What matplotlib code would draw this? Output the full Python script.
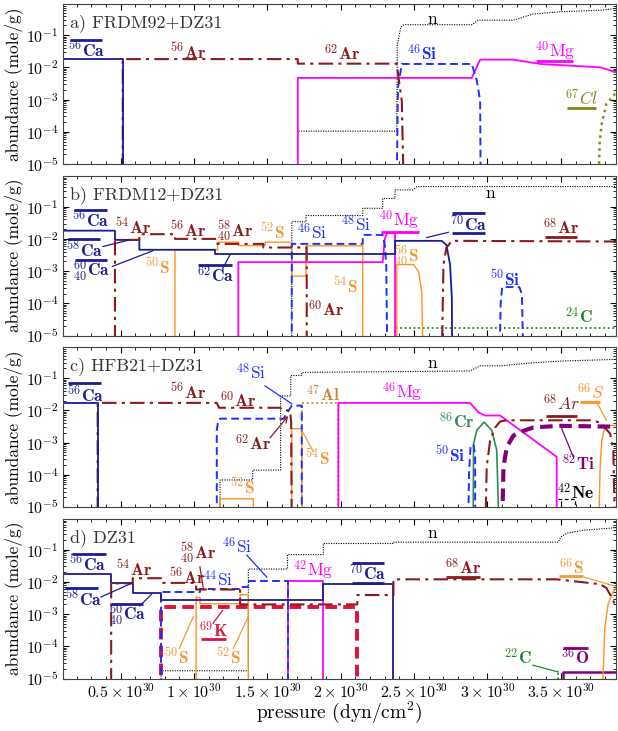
import numpy as np
import matplotlib
matplotlib.use('Agg')
import matplotlib.pyplot as plt
from matplotlib.ticker import MultipleLocator, LogLocator, NullFormatter, FuncFormatter
from matplotlib.transforms import ScaledTranslation

nan = np.nan

###############################################################################
# pressure in units of 1e30 dyn/cm^2, abundance in mole/g
###############################################################################
# a) FRDM92+DZ31
a_ca_p = [0.107, 0.514, 0.514]
a_ca_y = [1.8e-2, 1.8e-2, 1e-6]
a_ar_p = [0.514, 0.514, 1.707, 1.707, 2.382, 2.393, 2.416, 2.43]
a_ar_y = [1e-6, 1.8e-2, 1.8e-2, 1.3e-2, 1.3e-2, 5e-3, 9e-4, 1e-6]
a_mg_p = [1.707, 1.707, 2.893, 2.95, 3.177, 3.36, 3.77, 3.877]
a_mg_y = [1e-6, 4.7e-3, 4.7e-3, 1.73e-2, 1.73e-2, 1.27e-2, 1.0e-2, 7e-3]
a_si_p = [2.38, 2.39, 2.416, 2.893, 2.927, 2.95, 2.954]
a_si_y = [1e-6, 2.4e-3, 1.27e-2, 1.27e-2, 3.9e-3, 9.3e-4, 1e-6]
a_n_p = [1.707, 1.707, 2.382, 2.385, 2.41, 2.43, 2.893, 2.935, 3.177, 3.31, 3.5, 3.77, 3.877]
a_n_y = [1e-6, 1.05e-4, 1.05e-4, 5e-2, 0.18, 0.21, 0.21, 0.29, 0.29, 0.45, 0.53, 0.59, 0.67]
a_cl_p = [3.754, 3.765, 3.779, 3.81, 3.87, 3.877]
a_cl_y = [1e-6, 5e-5, 1.8e-4, 7.4e-4, 1.5e-3, 1.55e-3]

# b) FRDM12+DZ31
b_ca_p = [0.107, 0.461, 0.461, 0.627, 0.627, 1.143, 1.143, 2.37, 2.37, 2.688, 2.72, 2.745, 2.757, 2.76]
b_ca_y = [1.8e-2, 1.8e-2, 9.3e-3, 9.3e-3, 4.6e-3, 4.6e-3, 3.4e-3, 3.4e-3, 8.7e-3, 8.7e-3, 6.5e-3, 1.6e-3, 1.5e-4, 1e-6]
b_ar_p = [0.461, 0.461, 0.627, 0.627, 0.870, 0.870, 1.16, 1.16, 1.472, 1.472, 1.768, 1.768,
          nan, 2.688, 2.70, 2.72, 2.757, 3.877]
b_ar_y = [1e-6, 9.3e-3, 9.3e-3, 1.4e-2, 1.4e-2, 1e-2, 1e-2, 7e-3, 7e-3, 5.4e-3, 5.4e-3, 1e-6,
          nan, 1e-6, 1.6e-3, 5.3e-3, 8.7e-3, 8.3e-3]
b_s_p = [0.870, 0.870, 1.16, 1.16, 1.302, 1.302, 1.484, 1.484, 1.666, 1.666, 1.763, 1.763, 2.15, 2.15,
         nan, 2.382, 2.382, 2.495, 2.53, 2.552, 2.563]
b_s_y = [1e-6, 4.6e-3, 4.6e-3, 7.9e-3, 7.9e-3, 6.2e-3, 6.2e-3, 7.9e-3, 7.9e-3, 7e-4, 7e-4, 6.1e-3, 6.1e-3, 1e-6,
         nan, 1e-6, 1.6e-3, 1.6e-3, 9.8e-4, 2.3e-4, 1e-6]
b_mg_p = [1.302, 1.302, 2.286, 2.30, 2.316, 2.37, 2.37]
b_mg_y = [1e-6, 1.9e-3, 1.9e-3, 1e-2, 1.5e-2, 1.5e-2, 1e-6]
b_si_p = [1.666, 1.666, 2.15, 2.15, 2.286, 2.30, 2.31, 2.318,
          nan, 3.081, 3.09, 3.10, 3.217, 3.235, 3.245]
b_si_y = [1e-6, 7e-3, 7e-3, 1.33e-2, 1.33e-2, 6.5e-3, 1.6e-3, 1e-6,
          nan, 1e-6, 1e-4, 3.2e-4, 3.2e-4, 1.9e-4, 1e-6]
b_n_p = [1.666, 1.666, 1.763, 1.763, 2.15, 2.15, 2.286, 2.286, 2.37, 2.37, 2.49, 2.52, 3.877]
b_n_y = [1e-6, 3.4e-2, 3.4e-2, 5.3e-2, 5.3e-2, 8.9e-2, 8.9e-2, 0.18, 0.18, 0.33, 0.33, 0.42, 0.42]
b_c_p = [2.37, 2.37, 3.877]
b_c_y = [1e-6, 1.7e-5, 1.7e-5]

# c) HFB21+DZ31
c_ca_p = [0.107, 0.343, 0.343]
c_ca_y = [1.7e-2, 1.7e-2, 1e-6]
c_ar_p = [0.343, 0.343, 1.155, 1.17, 1.587, 1.60, 1.655, 1.662, 1.666,
          nan, 2.984, 2.995, 3.018, 3.052, 3.086, 3.13, 3.70, 3.768, 3.836, 3.858, 3.870]
c_ar_y = [1e-6, 1.7e-2, 1.7e-2, 1.2e-2, 1.2e-2, 1.0e-2, 1.0e-2, 4e-3, 1e-6,
          nan, 1e-6, 1.8e-4, 1.15e-3, 2.9e-3, 4.5e-3, 4.9e-3, 4.9e-3, 4.2e-3, 1.9e-3, 5.7e-4, 1e-6]
c_si_p = [1.155, 1.155, 1.165, 1.177, 1.609, 1.666, 1.734, 1.734,
          nan, 2.868, 2.874, 2.885, 2.905, 2.916, 2.916]
c_si_y = [1e-6, 2.5e-3, 4.8e-3, 5.5e-3, 5.5e-3, 1.4e-2, 1.4e-2, 1e-6,
          nan, 1e-6, 1e-4, 8.3e-4, 8.3e-4, 4e-4, 1e-6]
c_n_p = [1.177, 1.177, 1.40, 1.40, 1.59, 1.59, 1.659, 1.659, 1.734, 1.734, 2.881, 2.95, 3.086, 3.313, 3.52, 3.877]
c_n_y = [1e-6, 6.9e-5, 6.9e-5, 1.4e-4, 1.4e-4, 2.8e-2, 2.8e-2, 0.12, 0.12, 0.15, 0.166, 0.24, 0.24, 0.30, 0.34, 0.38]
c_al_p = [1.734, 1.734, 1.984, 1.984]
c_al_y = [1e-6, 1.7e-2, 1.7e-2, 1e-6]
c_s_p = [1.666, 1.666, 1.734, 1.734, nan, 1.177, 1.177, 1.404, 1.404,
         nan, 3.756, 3.768, 3.779, 3.795, 3.825, 3.877]
c_s_y = [1e-6, 2.7e-3, 2.7e-3, 1e-6, nan, 1e-6, 1.8e-5, 1.8e-5, 1e-6,
         nan, 1e-6, 1.8e-4, 1.15e-3, 2.5e-3, 3.4e-3, 3.4e-3]
c_mg_p = [1.984, 1.984, 2.881, 2.94, 2.984, 3.086, 3.472, 3.472]
c_mg_y = [1e-6, 1.7e-2, 1.7e-2, 8.5e-3, 6.9e-3, 6.9e-3, 3.6e-4, 1e-6]
c_cr_p = [2.902, 2.905, 2.927, 2.977, 3.029, 3.063, 3.081]
c_cr_y = [1e-6, 9e-4, 2.4e-3, 4.3e-3, 2.4e-3, 5.8e-4, 1e-6]
c_ti_p = [3.098, 3.109, 3.132, 3.177, 3.245, 3.313, 3.495, 3.877]
c_ti_y = [1e-6, 1.8e-4, 7.4e-4, 1.65e-3, 2.3e-3, 2.95e-3, 3.3e-3, 3.1e-3]
c_ne_p = [3.483, 3.597, 3.597]
c_ne_y = [1.8e-5, 1.8e-5, 1e-6]

# d) DZ31
d_ca_p = [0.107, 0.435, 0.435, 0.582, 0.582, 0.775, 0.775, 1.881, 1.881, 2.359, 2.359]
d_ca_y = [1.8e-2, 1.8e-2, 9e-3, 9e-3, 4.4e-3, 4.4e-3, 2.7e-3, 2.7e-3, 8.3e-3, 8.3e-3, 1e-6]
d_ar_p = [0.435, 0.435, 0.582, 0.582, 0.775, 0.775, 1.014, 1.014, 1.314, 1.314, 2.113, 2.113,
          2.359, 2.359, 3.472, 3.768, 3.81, 3.845, 3.877]
d_ar_y = [1e-6, 9e-3, 9e-3, 1.3e-2, 1.3e-2, 9.3e-3, 9.3e-3, 5.8e-3, 5.8e-3, 2.0e-3, 2.0e-3, 3.9e-3,
          3.9e-3, 1.2e-2, 1.2e-2, 8.5e-3, 6.5e-3, 3.4e-3, 1.7e-3]
d_k_p = [0.775, 0.775, 2.113, 2.113]
d_k_y = [1e-6, 1.7e-3, 1.7e-3, 1e-6]
d_si_p = [0.775, 0.775, 1.041, 1.041, 1.314, 1.314, 1.37, 1.37, 1.637, 1.637]
d_si_y = [1e-6, 4.9e-3, 4.9e-3, 6.2e-3, 6.2e-3, 7e-3, 7e-3, 1.1e-2, 1.1e-2, 1e-6]
d_s_p = [1.014, 1.014, 1.041, 1.041, 1.314, 1.314, 1.37, 1.37, nan, 3.779, 3.80, 3.823, 3.857, 3.877]
d_s_y = [1e-6, 3.3e-3, 3.3e-3, 2.1e-3, 2.1e-3, 4e-3, 4e-3, 1e-6, nan, 1e-6, 4e-4, 2.1e-3, 4.9e-3, 6.5e-3]
d_n_p = [0.775, 0.775, 1.37, 1.37, 1.637, 1.637, 1.881, 1.881, 2.359, 2.359, 3.483, 3.50, 3.54, 3.65, 3.877]
d_n_y = [1e-6, 1.75e-5, 1.75e-5, 2.5e-2, 2.5e-2, 7e-2, 7e-2, 0.155, 0.155, 0.17, 0.17, 0.25, 0.32, 0.40, 0.48]
d_mg_p = [1.637, 1.637, 1.881, 1.881]
d_mg_y = [1e-6, 1.1e-2, 1.1e-2, 1e-6]
d_c_p = [3.483, 3.483]
d_c_y = [1e-6, 1.8e-5]
d_o_p = [3.517, 3.517, 3.877]
d_o_y = [1e-6, 1.6e-5, 1.6e-5]

x_ticks = [0.5, 1.0, 1.5, 2.0, 2.5, 3.0, 3.5]
panel_titles = ['a) FRDM92+DZ31', 'b) FRDM12+DZ31', 'c) HFB21+DZ31', 'd) DZ31']

###############################################################################
plt.rcParams['font.family'] = ['cmr10', 'DejaVu Serif']
plt.rcParams['mathtext.fontset'] = 'cm'
plt.rcParams['axes.formatter.use_mathtext'] = True
plt.rcParams['axes.unicode_minus'] = False

CA = '#1c1c94'
AR = '#8b1a1a'
SI = '#1f2fff'
MG = '#ff00ff'
S = '#ff9020'
SL = '#f39a3a'
CL = '#86861e'
CG = '#1e8a1e'
CR = '#2e8b57'
TI = '#800080'
K = '#dc143c'
AL = '#cd853f'

DD = (0, (7, 2.5, 1.5, 2.5))
DA = (0, (4, 2.2))
DT = (0, (1, 1.2))

style = {
    'ca': dict(color=CA, ls='-', lw=1.3),
    'ar': dict(color=AR, ls=DD, lw=1.5),
    'si': dict(color=SI, ls=DA, lw=1.4),
    'mg': dict(color=MG, ls='-', lw=1.3),
    's': dict(color=S, ls='-', lw=1.0),
    'n': dict(color='black', ls=DT, lw=0.8),
    'cl': dict(color=CL, ls=(0, (1, 1.6)), lw=1.8),
    'c': dict(color=CG, ls=(0, (1, 1.5)), lw=1.3),
    'cr': dict(color=CR, ls='-', lw=1.2),
    'ti': dict(color=TI, ls=(0, (3, 1.6)), lw=3.0),
    'k': dict(color=K, ls=(0, (3, 1.6)), lw=2.8),
    'o': dict(color=TI, ls='-', lw=1.8),
    'al': dict(color=AL, ls=(0, (1, 1.6)), lw=1.3),
    'ne': dict(color='black', ls=(0, (3, 2)), lw=0.9),
}


def iso(a, el, sub=None, kind='bf'):
    if kind == 'bf':
        s = r'^{\mathbf{%s}}' % a
        if sub:
            s += r'_{\mathbf{%s}}' % sub
        return r'$%s\mathbf{%s}$' % (s, el)
    if kind == 'rm':
        return r'$^{%s}\mathrm{%s}$' % (a, el)
    return r'$^{%s}%s$' % (a, el)


def lab(ax, x, y, txt, color, size=12.5, bars=(), line=None, arrow=False):
    # x, y: visual centre of the label; text is set on its baseline a bit lower
    ax.annotate(txt, (x, y), xytext=(0, -3.6), textcoords='offset points',
                color=color, fontsize=size, ha='center', va='baseline', zorder=6)
    for (x0, x1, yb) in bars:
        off = 2.8 if yb > y else -0.8
        tr = ax.transData + ScaledTranslation(0, off / 72.0, ax.figure.dpi_scale_trans)
        ax.plot([x0, x1], [yb, yb], color=color, lw=2.0, solid_capstyle='butt',
                zorder=6, transform=tr)
    if line is not None:
        (x0, y0), (x1, y1) = line
        if arrow:
            ax.annotate('', xy=(x1, y1), xytext=(x0, y0),
                        arrowprops=dict(arrowstyle='->', color=color, lw=0.9))
        else:
            ax.plot([x0, x1], [y0, y1], color=color, lw=0.9, zorder=6)


fig = plt.figure(figsize=(6.18, 7.31), dpi=100)
bottoms = [0.7756, 0.5409, 0.3064, 0.0717]
axes = []
for i, b in enumerate(bottoms):
    ax = fig.add_axes([0.102, b, 0.895, 0.2189])
    ax.set_yscale('log')
    ax.set_xlim(0.107, 3.877)
    ax.set_ylim(1e-5, 0.92)
    ax.xaxis.set_major_locator(plt.FixedLocator(x_ticks))
    ax.xaxis.set_minor_locator(MultipleLocator(0.1))
    ax.yaxis.set_major_locator(LogLocator(base=10, numticks=10))
    ax.yaxis.set_minor_locator(LogLocator(base=10, subs=np.arange(2, 10), numticks=20))
    ax.yaxis.set_minor_formatter(NullFormatter())
    ax.tick_params(which='both', direction='in', top=True, right=True, labelsize=11.5)
    ax.tick_params(which='major', length=4.5, width=0.8)
    ax.tick_params(which='minor', length=2.2, width=0.6)
    if i < 3:
        ax.set_xticklabels([])
    else:
        ax.xaxis.set_major_formatter(FuncFormatter(lambda v, pos: r'$%g\times10^{30}$' % v))
        ax.tick_params(axis='x', pad=3)
        ax.set_xlabel(r'pressure (dyn/cm$^2$)', fontsize=14, labelpad=-1)
    ax.set_ylabel('abundance (mole/g)', fontsize=12.5, labelpad=2)
    ax.text(0.012, 0.88, panel_titles[i], transform=ax.transAxes, fontsize=13,
            color='#333333', va='center', ha='left')
    for sp in ax.spines.values():
        sp.set_color('#444444')
    axes.append(ax)

###############################################################################
# panel a
ax = axes[0]
ax.plot(a_n_p, a_n_y, **style['n'])
ax.plot(a_cl_p, a_cl_y, **style['cl'])
ax.plot(a_mg_p, a_mg_y, **style['mg'])
ax.plot(a_si_p, a_si_y, **style['si'])
ax.plot(a_ar_p, a_ar_y, **style['ar'])
ax.plot(a_ca_p, a_ca_y, **style['ca'])
lab(ax, 0.264, 3.0e-2, iso(56, 'Ca'), CA, bars=[(0.155, 0.373, 5.5e-2)])
lab(ax, 0.96, 2.7e-2, iso(56, 'Ar'), AR)
lab(ax, 2.007, 2.4e-2, iso(62, 'Ar'), AR)
lab(ax, 2.552, 2.4e-2, iso(46, 'Si'), SI)
lab(ax, 3.46, 3.0e-2, iso(40, 'Mg', kind='rm'), MG, bars=[(3.33, 3.58, 1.66e-2)])
lab(ax, 3.64, 9.6e-4, iso(67, 'Cl', kind='it'), CL, bars=[(3.54, 3.74, 5.9e-4)])
lab(ax, 2.627, 0.32, 'n', 'black')

# panel b
ax = axes[1]
ax.plot(b_n_p, b_n_y, **style['n'])
ax.plot(b_c_p, b_c_y, **style['c'])
ax.plot(b_s_p, b_s_y, **style['s'])
ax.plot(b_mg_p, b_mg_y, **style['mg'])
ax.plot(b_si_p, b_si_y, **style['si'])
ax.plot(b_ca_p, b_ca_y, **style['ca'])
ax.plot(b_ar_p, b_ar_y, **style['ar'])
lab(ax, 0.296, 3.3e-2, iso(56, 'Ca'), CA, bars=[(0.184, 0.406, 5.8e-2)])
lab(ax, 0.25, 3.9e-3, iso(58, 'Ca'), CA, bars=[(0.143, 0.361, 7.7e-3)],
    line=((0.379, 5.8e-3), (0.561, 9.3e-3)))
lab(ax, 0.302, 1.0e-3, iso(60, 'Ca', sub=40), CA, bars=[(0.189, 0.404, 1.65e-3)],
    line=((0.443, 1.4e-3), (0.72, 4.3e-3)))
lab(ax, 1.143, 6.3e-4, iso(62, 'Ca'), CA, bars=[(1.03, 1.256, 1.2e-3)],
    line=((1.195, 1.2e-3), (1.245, 3.2e-3)))
lab(ax, 0.587, 2.1e-2, iso(54, 'Ar'), AR)
lab(ax, 0.962, 1.7e-2, iso(56, 'Ar'), AR)
lab(ax, 1.282, 1.7e-2, iso(58, 'Ar', sub=40), AR)
lab(ax, 1.536, 1.4e-2, iso(52, 'S'), SL)
lab(ax, 0.749, 1.2e-3, iso(50, 'S'), SL)
lab(ax, 1.804, 1.33e-2, iso(46, 'Si', kind='rm'), SI)
lab(ax, 2.104, 2.4e-2, iso(48, 'Si', kind='rm'), SI)
lab(ax, 2.40, 3.4e-2, iso(40, 'Mg', kind='rm'), MG, bars=[(2.275, 2.53, 1.8e-2)])
lab(ax, 2.45, 2.8e-3, iso(56, 'S', sub=40), SL)
lab(ax, 2.03, 3.1e-4, iso(54, 'S'), SL)
lab(ax, 1.90, 5.6e-5, iso(60, 'Ar'), AR)
lab(ax, 2.87, 2.5e-2, iso(70, 'Ca'), CA, bars=[(2.757, 2.983, 4.9e-2), (2.757, 2.983, 1.7e-2)],
    line=((2.586, 1.1e-2), (2.733, 1.6e-2)))
lab(ax, 3.50, 2.0e-2, iso(68, 'Ar'), AR, bars=[(3.39, 3.61, 1.23e-2)])
lab(ax, 3.124, 5.0e-4, iso(50, 'Si'), SI)
lab(ax, 3.62, 3.3e-5, iso(24, 'C'), CG)
lab(ax, 3.02, 0.26, 'n', 'black')

# panel c
ax = axes[2]
ax.plot(c_n_p, c_n_y, **style['n'])
ax.plot(c_al_p, c_al_y, **style['al'])
ax.plot(c_s_p, c_s_y, **style['s'])
ax.plot(c_mg_p, c_mg_y, **style['mg'])
ax.plot(c_cr_p, c_cr_y, **style['cr'])
ax.plot(c_ne_p, c_ne_y, **style['ne'])
ax.plot(c_si_p, c_si_y, **style['si'])
ax.plot(c_ar_p, c_ar_y, **style['ar'])
ax.plot(c_ti_p, c_ti_y, **style['ti'])
ax.plot(c_ca_p, c_ca_y, **style['ca'])
lab(ax, 0.261, 2.6e-2, iso(56, 'Ca'), CA, bars=[(0.143, 0.364, 5.4e-2)])
lab(ax, 0.962, 3.2e-2, iso(56, 'Ar'), AR)
lab(ax, 1.30, 1.8e-2, iso(60, 'Ar'), AR)
lab(ax, 1.39, 0.13, iso(48, 'Si', kind='rm'), SI, line=((1.484, 5.7e-2), (1.666, 1.6e-2)))
lab(ax, 1.40, 8.3e-4, iso(62, 'Ar'), AR, line=((1.506, 1.2e-3), (1.654, 7.8e-3)), arrow=True)
lab(ax, 1.88, 2.85e-2, iso(47, 'Al'), AL)
lab(ax, 1.84, 3.0e-4, iso(54, 'S'), SL, line=((1.813, 5.2e-4), (1.734, 2.4e-3)))
lab(ax, 1.332, 3.6e-5, iso(52, 'S'), SL)
lab(ax, 2.416, 3.4e-2, iso(46, 'Mg', kind='rm'), MG)
lab(ax, 2.79, 3.8e-3, iso(86, 'Cr'), CR)
lab(ax, 2.745, 3.6e-4, iso(50, 'Si'), SI)
lab(ax, 3.50, 1.4e-2, iso(68, 'Ar', kind='it'), AR, bars=[(3.40, 3.61, 7.3e-3)])
lab(ax, 3.62, 2.0e-4, iso(82, 'Ti'), TI, line=((3.585, 3.6e-4), (3.506, 2.7e-3)))
lab(ax, 3.60, 2.4e-5, iso(42, 'Ne'), 'black')
lab(ax, 3.70, 3.2e-2, iso(66, 'S', kind='it'), S, bars=[(3.63, 3.77, 2.0e-2)],
    line=((3.745, 1.8e-2), (3.81, 4.9e-3)))
lab(ax, 2.627, 0.30, 'n', 'black')

# panel d
ax = axes[3]
ax.plot(d_n_p, d_n_y, **style['n'])
ax.plot(d_c_p, d_c_y, **style['c'])
ax.plot(d_o_p, d_o_y, **style['o'])
ax.plot(d_s_p, d_s_y, **style['s'])
ax.plot(d_mg_p, d_mg_y, **style['mg'])
ax.plot(d_k_p, d_k_y, **style['k'])
ax.plot(d_si_p, d_si_y, **style['si'])
ax.plot(d_ca_p, d_ca_y, **style['ca'])
ax.plot(d_ar_p, d_ar_y, **style['ar'])
lab(ax, 0.273, 3.1e-2, iso(56, 'Ca'), CA, bars=[(0.166, 0.40, 5.7e-2)])
lab(ax, 0.243, 2.7e-3, iso(58, 'Ca'), CA, bars=[(0.12, 0.347, 4.9e-3)],
    line=((0.366, 3.4e-3), (0.57, 8.9e-3)))
lab(ax, 0.548, 9.3e-4, iso(60, 'Ca', sub=40), CA, bars=[(0.434, 0.655, 1.6e-3)],
    line=((0.63, 1.8e-3), (0.71, 4.1e-3)))
lab(ax, 0.59, 2.3e-2, iso(54, 'Ar'), AR)
lab(ax, 0.95, 1.3e-2, iso(56, 'Ar'), AR)
lab(ax, 1.029, 7.6e-2, iso(58, 'Ar', sub=40), AR, line=((1.04, 2.9e-2), (1.063, 6.2e-3)))
lab(ax, 1.166, 1.0e-2, iso(44, 'Si', kind='rm'), SI)
lab(ax, 1.29, 0.108, iso(46, 'Si', kind='rm'), SI, line=((1.36, 6.7e-2), (1.496, 1.4e-2)))
lab(ax, 1.81, 2.1e-2, iso(42, 'Mg', kind='rm'), MG)
lab(ax, 2.184, 1.6e-2, iso(70, 'Ca'), CA, bars=[(2.075, 2.298, 2.9e-2), (2.075, 2.298, 1.0e-2)])
lab(ax, 2.836, 2.5e-2, iso(68, 'Ar'), AR, bars=[(2.72, 2.95, 1.55e-2)])
lab(ax, 1.13, 2.8e-4, iso(69, 'K'), K, bars=[(1.05, 1.22, 1.8e-4)],
    line=((1.13, 5.2e-4), (1.194, 1.3e-3)))
lab(ax, 0.88, 4e-5, iso(50, 'S'), SL, line=((0.90, 8.7e-5), (0.995, 8.3e-4)))
lab(ax, 1.234, 4e-5, iso(52, 'S'), SL, line=((1.268, 8.7e-5), (1.37, 8.3e-4)))
lab(ax, 3.21, 3.8e-5, iso(22, 'C'), CG, line=((3.31, 2.6e-5), (3.483, 1.6e-5)))
lab(ax, 3.60, 3.8e-5, iso(36, 'O'), TI, bars=[(3.517, 3.687, 6.8e-5)])
lab(ax, 3.57, 2.5e-2, iso(66, 'S'), SL, bars=[(3.49, 3.65, 1.6e-2)],
    line=((3.66, 1.4e-2), (3.87, 7.4e-3)))
lab(ax, 2.627, 0.32, 'n', 'black')

fig.savefig('out.png', dpi=100)
